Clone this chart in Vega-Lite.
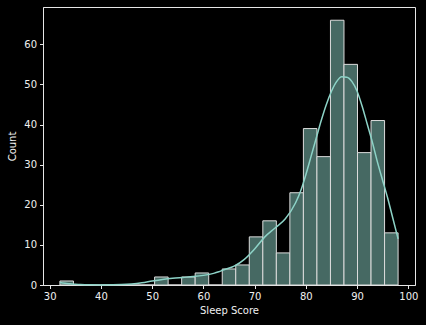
{
  "$schema": "https://vega.github.io/schema/vega-lite/v6.json",
  "autosize": "none",
  "width": 372,
  "height": 278,
  "padding": {"left": 43, "top": 7, "right": 11, "bottom": 40},
  "background": "#000000",
  "config": {
    "view": {"stroke": "#e6e6e6", "strokeWidth": 1},
    "axis": {
      "labelFont": "DejaVu Sans", "titleFont": "DejaVu Sans",
      "labelFontSize": 10, "titleFontSize": 10, "titleFontWeight": "normal",
      "labelColor": "#f0f0f0", "titleColor": "#f0f0f0",
      "domainColor": "#e6e6e6", "tickColor": "#e6e6e6",
      "tickSize": 3.5, "grid": false, "labelPadding": 3
    }
  },
  "datasets": {
    "bins": [
      {"start": 32.0, "end": 34.64, "count": 1},
      {"start": 34.64, "end": 37.28, "count": 0},
      {"start": 37.28, "end": 39.92, "count": 0},
      {"start": 39.92, "end": 42.56, "count": 0},
      {"start": 42.56, "end": 45.2, "count": 0},
      {"start": 45.2, "end": 47.84, "count": 0},
      {"start": 47.84, "end": 50.48, "count": 0},
      {"start": 50.48, "end": 53.12, "count": 2},
      {"start": 53.12, "end": 55.76, "count": 0},
      {"start": 55.76, "end": 58.4, "count": 2},
      {"start": 58.4, "end": 61.04, "count": 3},
      {"start": 61.04, "end": 63.68, "count": 0},
      {"start": 63.68, "end": 66.32, "count": 4},
      {"start": 66.32, "end": 68.96, "count": 5},
      {"start": 68.96, "end": 71.6, "count": 12},
      {"start": 71.6, "end": 74.24, "count": 16},
      {"start": 74.24, "end": 76.88, "count": 8},
      {"start": 76.88, "end": 79.52, "count": 23},
      {"start": 79.52, "end": 82.16, "count": 39},
      {"start": 82.16, "end": 84.8, "count": 32},
      {"start": 84.8, "end": 87.44, "count": 66},
      {"start": 87.44, "end": 90.08, "count": 55},
      {"start": 90.08, "end": 92.72, "count": 33},
      {"start": 92.72, "end": 95.36, "count": 41},
      {"start": 95.36, "end": 98.0, "count": 13}
    ],
    "kde": [
      {"x": 32, "y": 0.6}, {"x": 33, "y": 0.45}, {"x": 34, "y": 0.3}, {"x": 35, "y": 0.2},
      {"x": 36, "y": 0.12}, {"x": 38, "y": 0.05}, {"x": 40, "y": 0.03}, {"x": 42, "y": 0.05},
      {"x": 44, "y": 0.1}, {"x": 46, "y": 0.25}, {"x": 48, "y": 0.55}, {"x": 50, "y": 1.0},
      {"x": 52, "y": 1.4}, {"x": 54, "y": 1.7}, {"x": 56, "y": 1.9}, {"x": 58, "y": 2.1},
      {"x": 60, "y": 2.4}, {"x": 62, "y": 2.9}, {"x": 63, "y": 3.3}, {"x": 64, "y": 3.8},
      {"x": 66, "y": 4.7}, {"x": 68, "y": 6.4}, {"x": 70, "y": 9.0}, {"x": 72, "y": 12.0},
      {"x": 74, "y": 14.2}, {"x": 76, "y": 16.5}, {"x": 78, "y": 20.5}, {"x": 79, "y": 23.5},
      {"x": 80, "y": 27.5}, {"x": 81, "y": 32}, {"x": 82, "y": 36.5}, {"x": 83, "y": 41},
      {"x": 84, "y": 45}, {"x": 85, "y": 48.3}, {"x": 86, "y": 50.7}, {"x": 87, "y": 51.9},
      {"x": 88, "y": 51.8}, {"x": 89, "y": 50.7}, {"x": 90, "y": 48.3}, {"x": 91, "y": 44.5},
      {"x": 92, "y": 40}, {"x": 93, "y": 35.5}, {"x": 94, "y": 30.5}, {"x": 95, "y": 26},
      {"x": 96, "y": 21.5}, {"x": 97, "y": 16.5}, {"x": 98, "y": 11.5}
    ]
  },
  "layer": [
    {
      "data": {"name": "bins"},
      "mark": {"type": "rect", "fill": "#466963", "stroke": "#dcdcdc", "strokeWidth": 1},
      "encoding": {
        "x": {"field": "start", "type": "quantitative",
              "scale": {"domain": [28.7, 101.3], "nice": false, "zero": false},
              "axis": {"values": [30, 40, 50, 60, 70, 80, 90, 100], "title": "Sleep Score", "titlePadding": 4}},
        "x2": {"field": "end"},
        "y": {"field": "count", "type": "quantitative",
              "scale": {"domain": [0, 69.3], "nice": false},
              "axis": {"values": [0, 10, 20, 30, 40, 50, 60], "title": "Count", "titlePadding": 6}},
        "y2": {"datum": 0}
      }
    },
    {
      "data": {"name": "kde"},
      "mark": {"type": "line", "color": "#8dd3c7", "strokeWidth": 1.5, "interpolate": "monotone"},
      "encoding": {
        "x": {"field": "x", "type": "quantitative"},
        "y": {"field": "y", "type": "quantitative"}
      }
    }
  ]
}
